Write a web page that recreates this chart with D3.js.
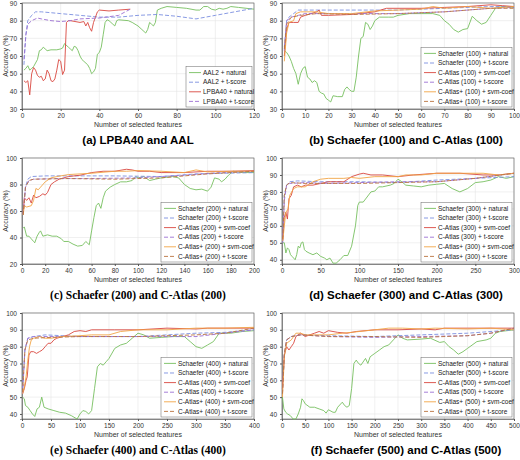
<!DOCTYPE html>
<html><head><meta charset="utf-8">
<script src="https://cdn.jsdelivr.net/npm/d3@7"></script>
<style>body{margin:0;background:#fff}</style>
</head><body><div id="chart"></div>
<script>
// ---- data: [number of features, accuracy %] ----
var aAal2Natural = [[1,52],[2,53],[3,54.5],[4,52],[5,53],[6,54],[8,58],[9,63],[10,63.5],[11,65],[12,64],[13,63],[15,63.5],[18,63.5],[20,64],[21,64.5],[22,67],[24,65],[25,64],[26,63],[27,65.5],[28,65],[29,63],[30,60],[31,58],[32,57],[34,55],[35,53],[36,50],[37,51],[38,53],[39,61],[40,62],[41,65],[42,72],[43,79],[44,80.5],[45,80],[46,79],[47,78],[48,77],[49,80],[50,80.5],[55,80],[57,79],[60,77],[62,75],[64,73],[65,75],[66,79],[67,78],[68,77],[69,79],[70,86],[72,87],[75,88],[80,87.5],[85,87],[90,86],[92,86],[94,88],[96,88],[98,86.5],[100,86],[102,87],[104,86.5],[106,87],[108,88],[112,87.5],[120,86.5]];
var aAal2Tscore = [[1,55],[2,72],[3,80],[5,83],[7,85],[10,85],[20,84],[30,83],[40,82],[50,82],[60,83],[70,83.5],[80,82.5],[90,81],[100,83],[110,85],[120,87]];
var aLpbaNatural = [[1,46],[2,45],[3,46],[4,38],[5,50],[6,53.5],[7,52],[8,49],[9,48],[10,48.5],[11,46],[12,47],[13,52],[14,50],[15,46],[16,45.5],[17,47],[18,52],[19,58],[20,57],[21,49.5],[22,52],[23,79],[24,80],[25,80],[30,79],[32,79.5],[33,77],[34,79],[35,76],[36,74],[37,79],[38,82],[39,85],[40,86],[45,85.5],[50,86],[56,86.5]];
var aLpbaTscore = [[1,58],[2,72],[3,78],[5,80],[8,81.5],[10,81],[15,80],[20,79.5],[25,80],[30,81],[40,81.5],[50,83],[56,86.5]];

var bSchNatural = [[1,63],[2,62],[3,60],[4,57],[5,53],[6,50],[7,44],[8,50],[9,53],[10,54],[11,48],[12,47],[13,45],[14,46],[15,45],[16,40],[17,39],[18,38.5],[19,36],[20,35],[21,34],[22,37.5],[24,37],[26,37],[27,41],[28,42.5],[29,41],[30,40],[31,40],[32,48],[33,60],[34,70],[35,71],[36,79],[37,78],[38,75],[39,77],[40,80],[42,82],[46,82],[48,82],[50,83],[55,84],[60,84],[65,84],[68,83],[70,80],[72,78],[74,75],[76,73.5],[78,75],[80,75.5],[82,82.5],[84,80],[86,78],[88,79],[90,83],[92,87],[95,88],[100,87.5]];
var bSchTscore = [[1,65],[2,80],[3,82],[5,84],[7,86],[15,86],[30,86],[50,86],[70,87],[90,88],[100,88]];
var bCaSvm = [[1,60],[2,75],[3,79],[5,79],[7,79],[8,82],[10,83],[15,85],[16,86],[17,83],[20,83],[30,83.5],[40,85],[45,87],[50,87],[60,87],[70,87.5],[80,88],[90,89],[95,88.5],[100,88]];
var bCaTscore = [[1,63],[2,80],[4,82],[7,83],[10,84],[30,84],[50,84],[70,85],[90,87],[100,87.5]];
var bCapSvm = [[1,57],[2,73],[3,79],[5,80],[6,84],[8,85],[15,85],[20,84],[30,84],[40,85.5],[50,86],[60,86.5],[65,88],[70,87],[80,88],[90,87],[100,88]];
var bCapTscore = [[1,64],[2,78],[4,82],[8,83],[15,84],[30,83.5],[50,84],[70,85],[90,87],[100,87]];

var cSchNatural = [[1,47],[2,48],[4,41],[6,41],[8,39],[10,37],[11,36],[13,41],[15,44],[16,45],[18,41],[22,42],[26,41],[30,41],[34,39],[36,37],[40,37],[44,35],[48,33.5],[52,34],[55,37],[58,34.5],[60,45],[62,55],[64,64],[66,66],[68,62],[70,70],[72,75],[76,78],[80,80],[85,82],[90,82],[95,83],[98,86],[100,85],[105,86],[110,83],[115,84],[120,85],[130,86],[135,85],[140,80],[145,77],[150,76],[155,76.5],[160,75],[163,78],[166,85],[170,84],[172,82],[175,84],[178,87],[182,90],[190,89],[200,89]];
var cSchTscore = [[1,57],[3,78],[5,84],[8,86],[20,86.5],[50,86.5],[80,86.5],[120,86],[150,88],[200,89]];
var cCaSvm = [[1,58],[2,70],[4,68],[6,70],[8,66],[10,72],[12,70],[15,71],[18,73],[20,72],[22,74],[25,80],[28,82],[32,84],[40,86],[50,87],[60,89],[70,90],[80,90],[90,91.5],[95,91],[100,90],[110,90],[120,89],[140,89],[160,90],[180,90],[200,90.5]];
var cCaTscore = [[1,58],[3,78],[6,83],[10,84],[30,84.5],[60,84.5],[100,85],[140,87],[170,89],[200,90]];
var cCapSvm = [[1,57],[2,64],[4,63],[8,64],[10,68],[12,77],[14,76],[16,78],[20,82],[25,85],[30,86],[40,87.5],[50,88],[60,88.5],[80,90],[90,90],[100,90.5],[120,90],[140,89],[150,91],[160,89.5],[180,90],[200,90]];
var cCapTscore = [[1,57],[3,78],[6,83],[10,84],[40,84.5],[80,84],[120,85],[160,88],[200,90]];

var dSchNatural = [[1,50],[3,50],[5,44],[7,47],[9,46],[11,43],[13,42],[17,40],[19,43],[21,48],[23,47],[25,50],[27,50.5],[29,46],[31,45],[35,44],[40,43],[45,44],[50,42],[55,41],[58,40],[62,41],[66,38],[70,38],[75,40],[80,42.5],[85,42.5],[90,48],[95,60],[98,72],[100,74],[105,74],[110,77],[115,80],[120,80.5],[125,83],[130,83],[140,84],[145,85],[150,87.5],[155,86],[160,84],[170,83.5],[180,83],[190,84],[200,84.5],[210,85],[220,82],[230,80],[240,82],[250,85.5],[260,86],[270,87],[280,89],[290,88],[300,89]];
var dSchTscore = [[1,55],[3,78],[6,84],[10,86],[20,86.5],[50,86],[100,86],[150,85.5],[200,87],[250,88],[300,89]];
var dCaSvm = [[1,52],[3,65],[5,68],[7,64],[9,76],[12,78],[15,83],[20,84],[25,83],[30,84],[40,84],[50,85],[60,86],[80,86],[90,89],[100,90.5],[105,91],[115,90],[130,90],[150,89],[170,90],[200,91],[230,91],[260,90],[280,90],[300,91]];
var dCaTscore = [[1,50],[3,75],[6,84],[10,85],[30,85.5],[60,85],[100,85.5],[150,86],[200,86],[250,88],[300,91]];
var dCapSvm = [[1,51],[3,60],[5,68],[8,70],[10,78],[15,82],[20,83],[30,83],[40,86],[50,87.5],[60,88],[80,88],[90,88.5],[100,88],[120,89],[150,89],[160,90],[180,90],[200,91],[230,91],[260,91],[280,90],[300,91]];
var dCapTscore = [[1,52],[3,78],[6,84],[10,85.5],[30,85],[60,85],[100,85],[150,85.5],[200,86],[250,88],[300,91]];

var eSchNatural = [[1,50],[4,49],[6,45],[10,44],[14,42],[18,40],[22,38.5],[26,43],[30,44],[34,50],[38,44],[45,43],[55,42],[65,41],[75,40.5],[85,39],[95,37],[100,40],[105,42],[110,41.5],[115,40],[120,42],[125,55],[130,68],[135,70],[140,69],[145,71],[150,73],[160,79],[170,81],[180,82],[190,85],[200,88],[210,87],[220,85],[240,85.5],[260,86],[280,86],[290,83],[300,80],[310,79],[320,81],[330,83],[340,88],[360,88],[380,89],[400,89.5]];
var eSchTscore = [[1,55],[5,78],[10,85],[20,86],[40,87],[100,86],[200,86],[300,88],[350,88.5],[400,90]];
var eCaSvm = [[1,52],[4,55],[7,60],[9,62],[12,75],[15,77],[20,77],[25,76],[30,77],[35,78],[40,80],[45,82],[50,82],[55,84],[60,85],[70,86],[80,87],[90,89],[100,89.5],[110,89],[120,90],[160,90],[200,90],[250,91],[300,90.5],[320,91],[350,91],[400,91]];
var eCaTscore = [[1,52],[5,78],[10,85],[20,86],[50,86],[100,86],[200,86],[300,86],[350,88],[400,90]];
var eCapSvm = [[1,52],[4,56],[7,62],[10,72],[13,80],[16,84],[20,85],[30,86],[40,85],[50,85],[70,86],[100,86.5],[120,87],[150,87],[170,89],[200,90],[250,90],[300,91],[350,91],[400,91.5]];
var eCapTscore = [[1,53],[5,78],[10,84],[20,85],[50,85.5],[100,86],[200,86],[300,87],[350,88],[400,91]];

var fSchNatural = [[1,50],[4,43],[8,41],[12,40],[18,39],[24,37],[30,36],[35,40],[40,44],[43,49],[46,48],[50,46],[60,44],[70,44],[80,43],[90,42],[95,40.5],[100,42.5],[110,41],[115,41],[120,44],[130,47],[135,45],[140,44],[145,45],[150,55],[155,70],[160,72],[165,70],[170,69],[180,73],[185,70],[190,74],[200,76],[210,78],[220,80],[230,81],[240,84],[250,87],[260,85],[270,84],[300,84.5],[320,85],[340,82.5],[350,83],[360,80],[370,78],[380,75.5],[390,77],[400,79],[420,83],[440,84],[450,85],[460,88],[470,89],[500,90]];
var fSchTscore = [[1,55],[5,75],[10,84],[20,86],[40,87],[100,86.5],[200,86],[300,87],[400,88],[500,90]];
var fCaSvm = [[1,55],[5,75],[10,80],[15,78],[20,80],[25,82],[30,86],[40,88],[50,86],[60,87],[70,88],[80,89],[90,88],[100,89.5],[120,88.5],[140,88],[160,89],[200,90],[250,90],[300,90.5],[330,90],[350,91],[400,91],[450,91],[500,91]];
var fCaTscore = [[1,52],[5,75],[10,84],[20,86],[40,87],[100,86],[200,85.5],[300,86],[400,86.5],[450,88],[500,91]];
var fCapSvm = [[1,50],[5,74],[10,82],[20,84],[30,88],[40,88],[50,87],[70,87],[100,87],[130,88],[150,88.5],[200,90],[230,91],[260,91],[300,90.5],[330,91],[400,90.5],[450,91],[500,90]];
var fCapTscore = [[1,52],[5,76],[10,84],[20,86],[40,87],[100,86],[200,86],[300,85.5],[400,86.5],[450,88],[500,91]];

var captions = ["(a) LPBA40 and AAL","(b) Schaefer (100) and C-Atlas (100)","(c) Schaefer (200) and C-Atlas (200)",
  "(d) Schaefer (300) and C-Atlas (300)","(e) Schaefer (400) and C-Atlas (400)","(f) Schaefer (500) and C-Atlas (500)"];
var xMax = [120,100,200,300,400,500];
var yMin = [30,30,20,37.5,37,37];
var yMax = [90,90,100,100,100,100];
var xStep = [20,10,20,50,50,50];
var yTicks = [[30,40,50,60,70,80,90],[30,40,50,60,70,80,90],[20,40,60,80,100],
  [40,50,60,70,80,90,100],[40,50,60,70,80,90,100],[40,50,60,70,80,90,100]];

var C = {green:"#77c060",blue:"#7b8fe0",red:"#d9473f",purple:"#9c6fd2",orange:"#f2a546",brown:"#b9733f"};
function style(c,dash){return {color:c,dash:dash};}
function sixSeries(n,arr){
  var atl = "(" + n + ")";
  return [
    {name:"Schaefer "+atl+" + natural",data:arr[0],s:style(C.green,false)},
    {name:"Schaefer "+atl+" + t-score",data:arr[1],s:style(C.blue,true)},
    {name:"C-Atlas "+atl+" + svm-coef",data:arr[2],s:style(C.red,false)},
    {name:"C-Atlas "+atl+" + t-score",data:arr[3],s:style(C.purple,true)},
    {name:"C-Atlas+ "+atl+" + svm-coef",data:arr[4],s:style(C.orange,false)},
    {name:"C-Atlas+ "+atl+" + t-score",data:arr[5],s:style(C.brown,true)}
  ];
}
var panels = [
  [{name:"AAL2 + natural",data:aAal2Natural,s:style(C.green,false)},
   {name:"AAL2 + t-score",data:aAal2Tscore,s:style(C.blue,true)},
   {name:"LPBA40 + natural",data:aLpbaNatural,s:style(C.red,false)},
   {name:"LPBA40 + t-score",data:aLpbaTscore,s:style(C.purple,true)}],
  sixSeries(100,[bSchNatural,bSchTscore,bCaSvm,bCaTscore,bCapSvm,bCapTscore]),
  sixSeries(200,[cSchNatural,cSchTscore,cCaSvm,cCaTscore,cCapSvm,cCapTscore]),
  sixSeries(300,[dSchNatural,dSchTscore,dCaSvm,dCaTscore,dCapSvm,dCapTscore]),
  sixSeries(400,[eSchNatural,eSchTscore,eCaSvm,eCaTscore,eCapSvm,eCapTscore]),
  sixSeries(500,[fSchNatural,fSchTscore,fCaSvm,fCaTscore,fCapSvm,fCapTscore])
];

var svg = d3.select("#chart").append("svg").attr("width",520).attr("height",460)
  .style("font-family","'Liberation Sans',Arial,sans-serif");

var plotW = 232, plotH = 106;
var rowTop = [3,158,313];
var colLeft = [22,282];

panels.forEach(function(series,i){
  var left = colLeft[i%2], top = rowTop[Math.floor(i/2)];
  var g = svg.append("g").attr("transform","translate("+left+","+top+")");
  var x = d3.scaleLinear().domain([0,xMax[i]]).range([0,plotW]);
  var y = d3.scaleLinear().domain([yMin[i],yMax[i]]).range([plotH,0]);
  var xt = d3.range(0,xMax[i]+1,xStep[i]);

  // grid
  g.append("g").selectAll("line").data(xt).join("line")
    .attr("x1",d=>x(d)).attr("x2",d=>x(d)).attr("y1",0).attr("y2",plotH)
    .attr("stroke","#e6e6e6").attr("stroke-width",0.6);
  g.append("g").selectAll("line").data(yTicks[i]).join("line")
    .attr("x1",0).attr("x2",plotW).attr("y1",d=>y(d)).attr("y2",d=>y(d))
    .attr("stroke","#e6e6e6").attr("stroke-width",0.6);

  var xa = g.append("g").attr("transform","translate(0,"+plotH+")")
    .call(d3.axisBottom(x).tickValues(xt).tickSize(2).tickFormat(d3.format("d")));
  var ya = g.append("g").call(d3.axisLeft(y).tickValues(yTicks[i]).tickSize(2));
  [xa,ya].forEach(function(a){
    a.selectAll("text").attr("fill","#333").style("font-size","6.5px");
    a.selectAll("line").attr("stroke","#555");
    a.select(".domain").attr("stroke","#555").attr("stroke-width",0.6);
  });
  xa.selectAll("text").attr("dy","0.6em");

  // frame
  g.append("rect").attr("width",plotW).attr("height",plotH)
    .attr("fill","none").attr("stroke","#555").attr("stroke-width",0.6);

  var line = d3.line().x(d=>x(d[0])).y(d=>y(Math.max(d[1],yMin[i])));
  series.forEach(function(s){
    g.append("path").datum(s.data).attr("d",line).attr("fill","none")
      .attr("stroke",s.s.color).attr("stroke-width",0.9)
      .attr("stroke-dasharray",s.s.dash?"4,2":null);
  });

  g.append("text").attr("x",plotW/2).attr("y",plotH+18).attr("text-anchor","middle")
    .attr("fill","#333").style("font-size","7px").text("Number of selected features");
  g.append("text").attr("transform","translate(-14,"+(plotH/2)+") rotate(-90)")
    .attr("text-anchor","middle").attr("fill","#333").style("font-size","7px").text("Accuracy (%)");
  g.append("text").attr("x",plotW/2+(i%2?8:0)).attr("y",plotH+35).attr("text-anchor","middle")
    .attr("fill","#000").style("font-size","11.5px").style("font-weight","bold")
    .style("font-family",(i==2||i==4)?"'Liberation Serif',serif":null)
    .text(captions[i]);

  // legend
  var lw = i==0?66:91, rowH = 9.6;
  var lh = series.length*rowH+2;
  var lg = g.append("g").attr("transform","translate("+(plotW-lw-2)+","+(plotH-lh-2)+")");
  lg.append("rect").attr("width",lw).attr("height",lh).attr("fill","#fff")
    .attr("stroke","#666").attr("stroke-width",0.5);
  series.forEach(function(s,k){
    var yy = 6+k*rowH;
    lg.append("line").attr("x1",3).attr("x2",15).attr("y1",yy).attr("y2",yy)
      .attr("stroke",s.s.color).attr("stroke-width",0.9).attr("stroke-dasharray",s.s.dash?"4,2":null);
    lg.append("text").attr("x",17).attr("y",yy+2.2).attr("fill","#222")
      .style("font-size","6.5px").text(s.name);
  });
});
</script>
</body></html>
